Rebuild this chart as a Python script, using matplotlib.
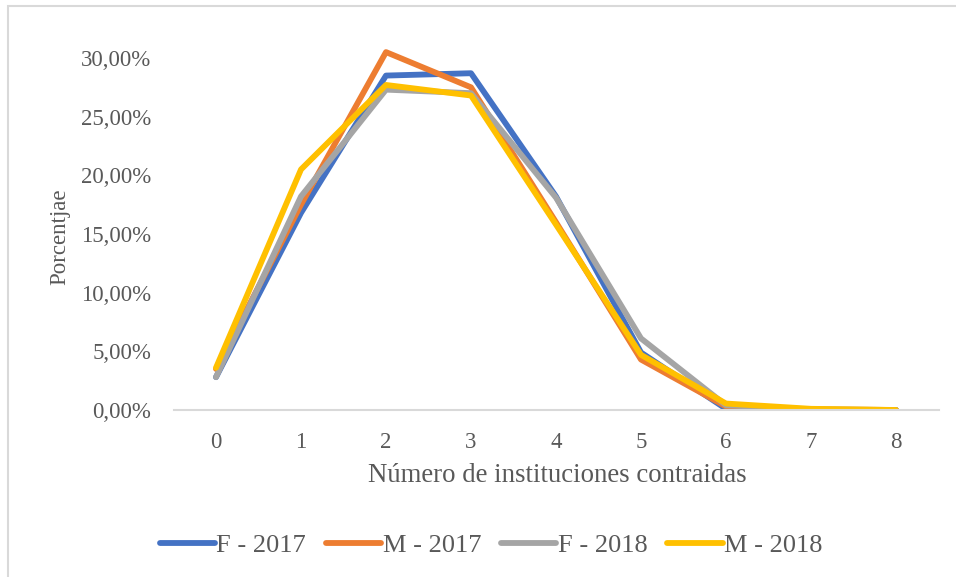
import numpy as np
import matplotlib
matplotlib.use("Agg")
import matplotlib.pyplot as plt
from matplotlib.patches import Rectangle

# Datos (porcentajes)
n_inst = [0, 1, 2, 3, 4, 5, 6, 7, 8]
f_2017 = [2.8, 16.8, 28.5, 28.7, 18.2, 4.9, 0.1, 0.0, 0.0]
m_2017 = [3.5, 17.5, 30.5, 27.5, 16.0, 4.3, 0.3, 0.05, 0.0]
f_2018 = [2.8, 18.2, 27.3, 27.0, 18.1, 6.1, 0.4, 0.05, 0.0]
m_2018 = [3.6, 20.5, 27.7, 26.8, 15.8, 4.7, 0.55, 0.1, 0.0]
series = [("F - 2017", f_2017, "#4472C4"),
          ("M - 2017", m_2017, "#ED7D31"),
          ("F - 2018", f_2018, "#A5A5A5"),
          ("M - 2018", m_2018, "#FFC000")]
y_ticks = [0, 5, 10, 15, 20, 25, 30]

plt.rcParams["font.family"] = ["Liberation Serif", "DejaVu Serif"]
txt_col = "#595959"
fs = 16.5

W, H = 956, 577
fig = plt.figure(figsize=(W / 100, H / 100), dpi=100)

# marco del área del gráfico (sólo se ven los bordes izquierdo y superior)
fig.patches.append(Rectangle((7.5 / W, -0.05), 1.2, (H - 6) / H + 0.05,
                             transform=fig.transFigure, fill=False,
                             edgecolor="#D9D9D9", linewidth=1.5))

ax = fig.add_axes([173.5 / W, (H - 410) / H, 765 / W, 410.7 / H])
for name, vals, col in series:
    ax.plot(n_inst, np.array(vals) / 100, color=col, lw=4.2, label=name,
            solid_capstyle="round", solid_joinstyle="round")

ax.set_xlim(-0.5, 8.5)
ax.set_ylim(0, 0.35)
ax.set_xticks(n_inst)
ax.set_yticks(np.array(y_ticks) / 100)
ax.set_yticklabels([f"{v:.2f}%".replace(".", ",") for v in y_ticks])
ax.tick_params(length=0, labelsize=fs, labelcolor=txt_col)
ax.tick_params(axis="x", pad=16)
ax.tick_params(axis="y", pad=16)
for s in ["top", "right", "left"]:
    ax.spines[s].set_visible(False)
ax.spines["bottom"].set_color("#D9D9D9")
ax.spines["bottom"].set_linewidth(1.5)
ax.patch.set_alpha(0)

fig.text(557 / W, 1 - 476 / H, "Número de instituciones contraidas",
         ha="center", va="center", fontsize=19.3, color=txt_col)
fig.text(60 / W, 1 - 237 / H, "Porcentjae", rotation=90,
         ha="center", va="center", fontsize=fs, color=txt_col)

fig.legend(loc="center", bbox_to_anchor=(491 / W, 1 - 545 / H), ncol=4,
           frameon=False, fontsize=19, labelcolor=txt_col,
           handlelength=2.1, handletextpad=0.05, columnspacing=0.75)

fig.savefig("out.png", dpi=100)
